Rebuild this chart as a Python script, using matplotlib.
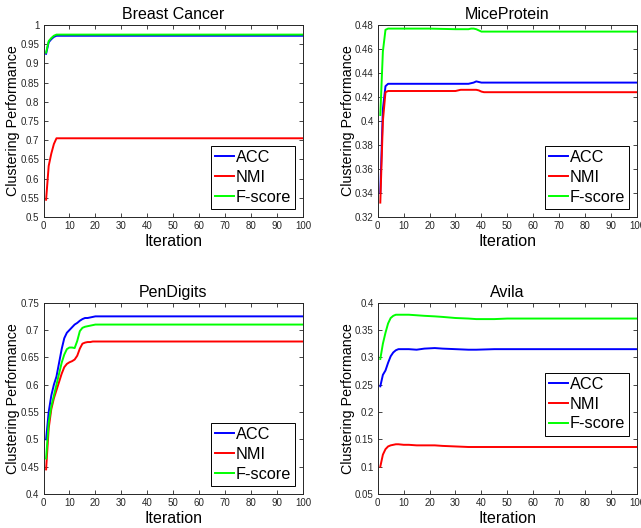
import matplotlib
matplotlib.use("Agg")
import matplotlib.pyplot as plt
from matplotlib.ticker import FuncFormatter

plt.rcParams['font.family'] = ['Liberation Sans', 'DejaVu Sans']

# ---------------- data ----------------
series_names = ["ACC", "NMI", "F-score"]
series_colors = ["#0000ff", "#ff0000", "#00ff00"]

# Breast Cancer
bc_iter = [1, 2, 3, 4, 5, 10, 20, 30, 40, 50, 60, 70, 80, 90, 100]
bc_acc = [0.925, 0.955, 0.963, 0.969, 0.972, 0.972, 0.972, 0.972, 0.972, 0.972, 0.972, 0.972, 0.972, 0.972, 0.972]
bc_nmi = [0.545, 0.633, 0.665, 0.690, 0.705, 0.705, 0.705, 0.705, 0.705, 0.705, 0.705, 0.705, 0.705, 0.705, 0.705]
bc_f = [0.928, 0.958, 0.966, 0.972, 0.975, 0.975, 0.975, 0.975, 0.975, 0.975, 0.975, 0.975, 0.975, 0.975, 0.975]

# MiceProtein
mp_iter = [1, 2, 3, 4, 5, 10, 20, 30, 32, 35, 36, 37, 38, 39, 40, 41, 50, 60, 70, 80, 90, 100]
mp_acc = [0.340, 0.410, 0.429, 0.431, 0.431, 0.431, 0.431, 0.431, 0.431, 0.431, 0.4315, 0.432, 0.433, 0.4325, 0.432, 0.432, 0.432, 0.432, 0.432, 0.432, 0.432, 0.432]
mp_nmi = [0.332, 0.400, 0.424, 0.425, 0.425, 0.425, 0.425, 0.425, 0.426, 0.426, 0.426, 0.426, 0.426, 0.4255, 0.4245, 0.424, 0.424, 0.424, 0.424, 0.424, 0.424, 0.424]
mp_f = [0.405, 0.458, 0.476, 0.477, 0.477, 0.477, 0.477, 0.4765, 0.4765, 0.4765, 0.477, 0.477, 0.4765, 0.4755, 0.4745, 0.4745, 0.4745, 0.4745, 0.4745, 0.4745, 0.4745, 0.4745]

# PenDigits
pd_iter = [1, 2, 3, 4, 5, 6, 7, 8, 9, 10, 11, 12, 13, 14, 15, 16, 17, 18, 19, 20, 30, 40, 50, 60, 70, 80, 90, 100]
pd_acc = [0.500, 0.550, 0.580, 0.600, 0.615, 0.640, 0.665, 0.685, 0.695, 0.700, 0.705, 0.710, 0.713, 0.717, 0.720, 0.722, 0.722, 0.723, 0.724, 0.725,
          0.725, 0.725, 0.725, 0.725, 0.725, 0.725, 0.725, 0.725]
pd_nmi = [0.445, 0.520, 0.555, 0.575, 0.590, 0.605, 0.620, 0.632, 0.638, 0.641, 0.643, 0.646, 0.653, 0.666, 0.675, 0.677, 0.678, 0.678, 0.679, 0.679,
          0.679, 0.679, 0.679, 0.679, 0.679, 0.679, 0.679, 0.679]
pd_f = [0.465, 0.530, 0.560, 0.580, 0.600, 0.620, 0.640, 0.655, 0.665, 0.668, 0.668, 0.667, 0.680, 0.698, 0.704, 0.706, 0.707, 0.708, 0.709, 0.710,
        0.710, 0.710, 0.710, 0.710, 0.710, 0.710, 0.710, 0.710]

# Avila
av_iter = [1, 2, 3, 4, 5, 6, 7, 8, 10, 12, 15, 18, 22, 25, 30, 35, 38, 45, 50, 60, 70, 80, 90, 100]
av_acc = [0.247, 0.268, 0.276, 0.290, 0.302, 0.309, 0.313, 0.315, 0.315, 0.315, 0.314, 0.316, 0.317, 0.316, 0.315, 0.314, 0.314, 0.315, 0.315, 0.315, 0.315, 0.315, 0.315, 0.315]
av_nmi = [0.100, 0.122, 0.132, 0.137, 0.139, 0.140, 0.141, 0.141, 0.140, 0.140, 0.139, 0.139, 0.139, 0.138, 0.137, 0.136, 0.136, 0.136, 0.136, 0.136, 0.136, 0.136, 0.136, 0.136]
av_f = [0.297, 0.325, 0.345, 0.362, 0.372, 0.376, 0.378, 0.378, 0.378, 0.378, 0.377, 0.376, 0.375, 0.374, 0.372, 0.371, 0.370, 0.370, 0.371, 0.371, 0.371, 0.371, 0.371, 0.371]

titles = ["Breast Cancer", "MiceProtein", "PenDigits", "Avila"]
ylims = [(0.5, 1.0), (0.32, 0.48), (0.4, 0.75), (0.05, 0.4)]
ysteps = [0.05, 0.02, 0.05, 0.05]
xticks = [0, 10, 20, 30, 40, 50, 60, 70, 80, 90, 100]

panels = [
    (bc_iter, [bc_acc, bc_nmi, bc_f]),
    (mp_iter, [mp_acc, mp_nmi, mp_f]),
    (pd_iter, [pd_acc, pd_nmi, pd_f]),
    (av_iter, [av_acc, av_nmi, av_f]),
]

# ---------------- layout ----------------
W, H = 641, 528
fig = plt.figure(figsize=(W / 100, H / 100), dpi=100)

pos = [
    (43.5, 25, 303, 217),
    (377.7, 25, 637, 217),
    (43.5, 302.7, 303, 494),
    (377.7, 302.7, 637, 494),
]
leg_anchor = [
    ("lower right", (0.97, 0.042)),
    ("lower right", (0.97, 0.042)),
    ("lower right", (0.97, 0.042)),
    ("center right", (0.97, 0.47)),
]

fmt = FuncFormatter(lambda v, p: ("%.3g" % v))
edge = (0.15, 0.15, 0.15)

for i, (xs, ys) in enumerate(panels):
    l, t, r, b = pos[i]
    ax = fig.add_axes([l / W, 1 - b / H, (r - l) / W, (b - t) / H])
    for y, name, c in zip(ys, series_names, series_colors):
        ax.plot(xs, y, color=c, lw=1.4, label=name)
    ax.set_xlim(0, 100)
    lo, hi = ylims[i]
    ax.set_ylim(lo, hi)
    n = int(round((hi - lo) / ysteps[i]))
    ax.set_yticks([lo + k * ysteps[i] for k in range(n + 1)])
    ax.yaxis.set_major_formatter(fmt)
    ax.set_xticks(xticks)
    ax.tick_params(direction='in', top=True, right=True, labelsize=7,
                   length=3, width=0.6, colors=edge, labelcolor=edge, pad=3)
    for s in ax.spines.values():
        s.set_color(edge)
        s.set_linewidth(0.7)
    ax.set_title(titles[i], fontsize=11.5, pad=4)
    ax.set_xlabel("Iteration", fontsize=11.5, labelpad=2)
    ax.set_ylabel("Clustering Performance", fontsize=10.3, va='center')
    ax.yaxis.set_label_coords(-0.116, 0.5)
    loc, anc = leg_anchor[i]
    leg = ax.legend(loc=loc, bbox_to_anchor=anc, fontsize=11.7, fancybox=False,
                    framealpha=1, edgecolor='black', handlelength=1.15,
                    handletextpad=0.12, labelspacing=0.3, borderpad=0.25,
                    borderaxespad=0)
    leg.get_frame().set_linewidth(0.7)

fig.savefig("out.png", dpi=100)
